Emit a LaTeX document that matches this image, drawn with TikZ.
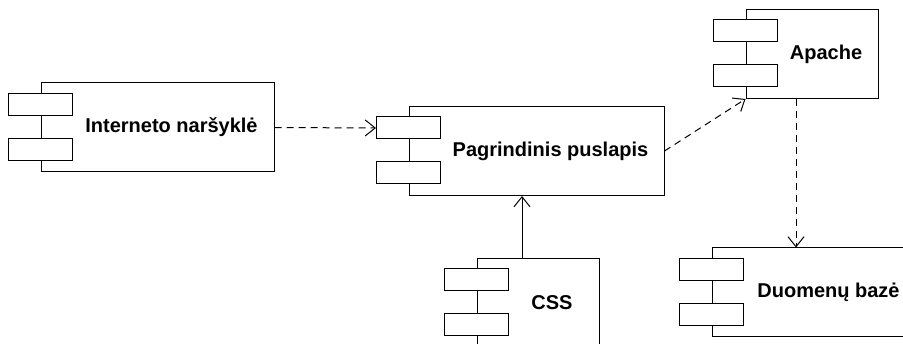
\documentclass[tikz,border=0pt]{standalone}
\usepackage{fontspec}
\setmainfont{Liberation Sans}
\usetikzlibrary{arrows.meta}

\tikzset{
  body/.style={draw, line width=1pt, minimum height=89pt, inner sep=0pt},
  tab/.style={draw, fill=white, line width=1pt, minimum width=64pt, minimum height=22pt, inner sep=0pt},
  comptext/.style={font=\fontsize{20}{24}\selectfont\bfseries, xshift=14pt},
  dep/.style={line width=1pt, dash pattern=on 7pt off 5pt, -{Straight Barb[length=10pt,width=16pt]}},
  use/.style={line width=1pt, -{Straight Barb[length=10pt,width=16pt]}}
}

\begin{document}
\begin{tikzpicture}[x=1pt, y=-1pt]
                \useasboundingbox (0,0) rectangle (903,344);
                \clip (0,0) rectangle (903,344);

                % Nodes
                \node[body, minimum width=233pt, label={[comptext]center:Interneto naršyklė}] (browser) at (157.5,127.5) {};
                \node[body, minimum width=255pt, label={[comptext]center:Pagrindinis puslapis}] (mainpage) at (536.5,151) {};
                \node[body, minimum width=132pt, label={[comptext]center:Apache}] (apache) at (812,54) {};
                \node[body, minimum width=122pt, label={[comptext]center:CSS}] (css) at (538,303) {};
                \node[body, minimum width=205pt, label={[comptext]center:Duomenų bazė}] (db) at (814.5,292.5) {};

                % Tabs
                \foreach \c in {browser,mainpage,apache,css,db} {
                    \node[tab, yshift=23pt] (\c-t1) at (\c.west) {};
                    \node[tab, yshift=-22pt] (\c-t2) at (\c.west) {};
                }

                % Arrows
                \draw[dep] (browser.east) -- (mainpage-t1.west);
                \draw[dep] (mainpage.east) -- (apache.south west);
                \draw[use] ([xshift=-16pt]css.north) -- ([xshift=-16pt]css.north |- mainpage.south);
                \draw[dep] ([xshift=-16pt]apache.south) -- ([xshift=-16pt]apache.south |- db.north);

            \end{tikzpicture}
\end{document}
